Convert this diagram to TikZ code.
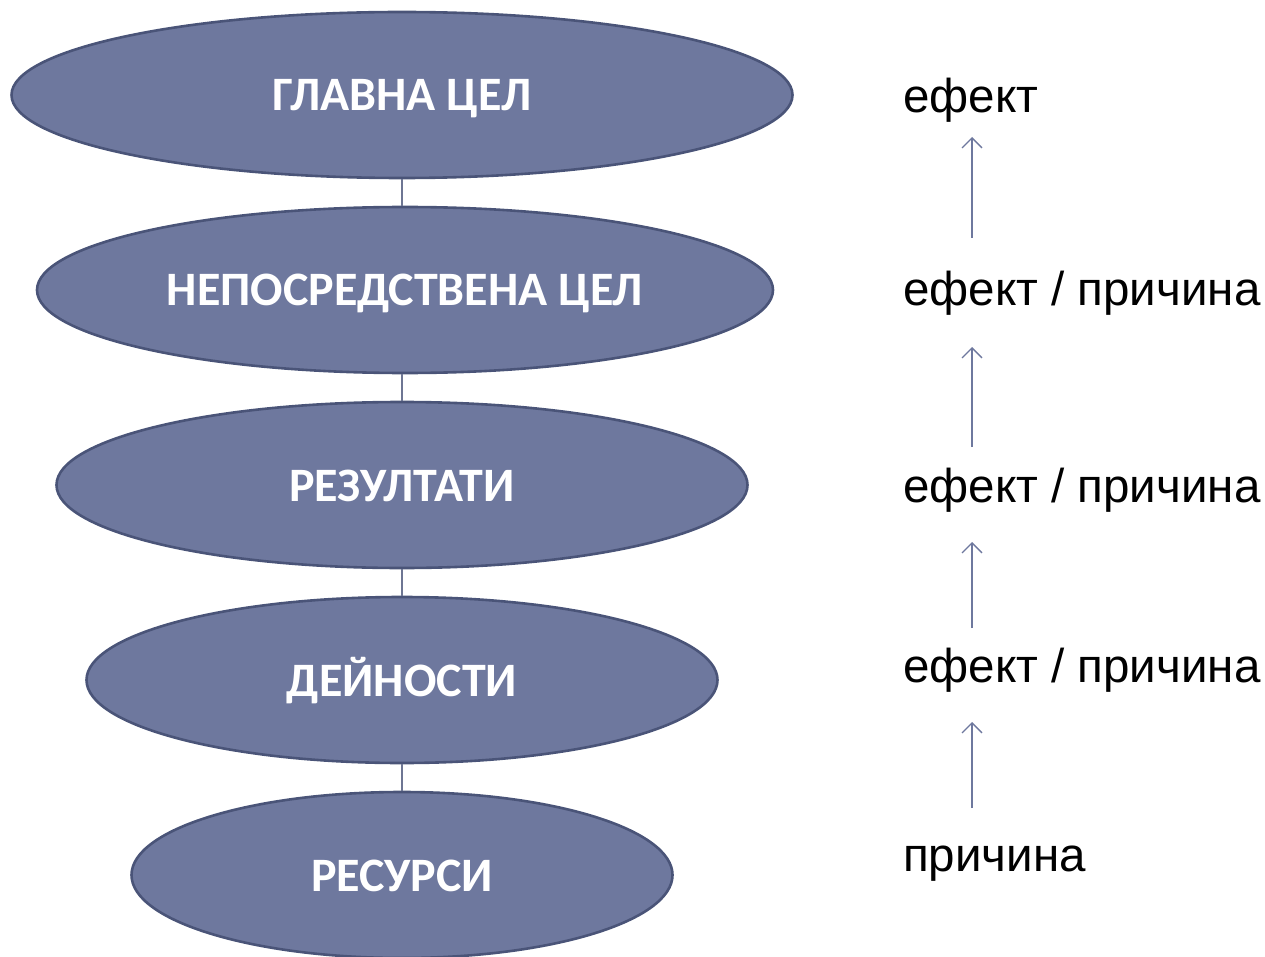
\documentclass[tikz,border=0pt]{standalone}
\usepackage{fontspec}
\setmainfont{Liberation Sans}
\newfontfamily\boxfont{Carlito}
\usetikzlibrary{shapes.geometric,arrows.meta}
\definecolor{efill}{RGB}{110,120,158}
\definecolor{edraw}{RGB}{74,84,120}
\tikzset{
  goal/.style={ellipse, fill=efill, draw=edraw, line width=2.6pt, inner sep=0pt,
    font=\boxfont\bfseries\fontsize{48}{56}\selectfont, text=white},
  link/.style={draw=edraw!80, line width=1.2pt},
  lbl/.style={anchor=west, inner sep=0pt, font=\fontsize{47.5}{56}\selectfont, text=black},
  up/.style={draw=efill, line width=1.5pt, -{Straight Barb[length=10pt,width=20pt,line width=1.3pt]}}
}
\newcommand{\gtxt}[1]{\raisebox{-16pt}[0pt][0pt]{#1}}
\begin{document}
\begin{tikzpicture}[x=1pt,y=-1pt]
\useasboundingbox (0,0) rectangle (1265,957);
\node[goal, minimum width=781pt, minimum height=166pt] (g1) at (402,95) {\gtxt{ГЛАВНА ЦЕЛ}};
\node[goal, minimum width=736pt, minimum height=166pt] (g2) at (405,290) {\gtxt{НЕПОСРЕДСТВЕНА ЦЕЛ}};
\node[goal, minimum width=691pt, minimum height=166pt] (g3) at (402,485) {\gtxt{РЕЗУЛТАТИ}};
\node[goal, minimum width=631pt, minimum height=166pt] (g4) at (402,680) {\gtxt{ДЕЙНОСТИ}};
\node[goal, minimum width=541pt, minimum height=166pt] (g5) at (402,875) {\gtxt{РЕСУРСИ}};
\draw[link] (g1.south) -- (g1.south |- g2.north);
\draw[link] (g2.south -| g1.south) -- (g1.south |- g3.north);
\draw[link] (g3.south) -- (g4.north);
\draw[link] (g4.south) -- (g5.north);
\node[lbl] (t1) at (903,100) {ефект};
\node[lbl] (t2) at (903,293) {ефект / причина};
\node[lbl] (t3) at (903,490) {ефект / причина};
\node[lbl] (t4) at (903,670) {ефект / причина};
\node[lbl] (t5) at (903,864) {причина};
\coordinate (a1s) at (972,238); \coordinate (a1e) at (972,137);
\coordinate (a2s) at (972,447); \coordinate (a2e) at (972,347);
\coordinate (a3s) at (972,628); \coordinate (a3e) at (972,542);
\coordinate (a4s) at (972,808); \coordinate (a4e) at (972,722);
\draw[up] (a1s) -- (a1e);
\draw[up] (a2s) -- (a2e);
\draw[up] (a3s) -- (a3e);
\draw[up] (a4s) -- (a4e);
\end{tikzpicture}
\end{document}
